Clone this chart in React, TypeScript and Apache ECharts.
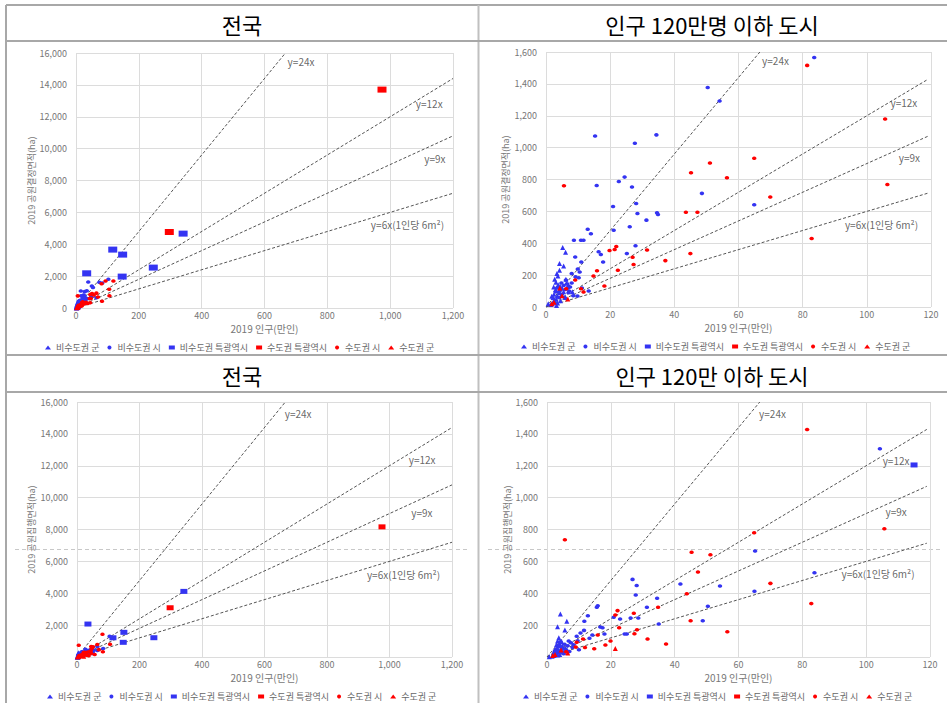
import React, { useEffect, useRef } from "react";
import * as echarts from "echarts";

// ---- 결정면적 (2019 공원결정면적, ha) : [인구(만인), 면적] ----
const gyeolBlueGun = [
  [5.2, 373], [6.1, 344], [4.2, 273], [5.5, 258], [4.2, 231], [3.4, 210], [3.7, 195], [2.7, 174], [6.2, 174],
  [1.8, 67], [0.7, 21], [2.5, 80], [3.0, 110], [3.2, 50], [3.5, 70], [2.8, 30], [4.0, 100], [4.5, 40], [5.0, 120],
  [2.2, 60], [3.8, 140], [4.2, 90], [2.0, 20], [3.3, 10], [4.8, 75], [5.5, 95], [6.0, 60], [2.6, 45], [3.6, 25],
  [1.5, 15], [4.4, 130], [7.0, 140], [8.2, 95], [2.4, 125], [3.1, 155],
];
const gyeolBlueSi = [
  [83.6, 1566], [50.4, 1377], [54.1, 1293], [15.3, 1073], [34.4, 1080], [27.7, 1027], [24.5, 815], [22.7, 788],
  [26.8, 753], [15.8, 763], [48.6, 713], [28.1, 650], [20.9, 631], [64.9, 641], [28.5, 587], [34.6, 591],
  [34.9, 581], [31.3, 545], [26.1, 503], [13.0, 488], [21.1, 482], [14.0, 459], [8.7, 419], [10.9, 419],
  [11.7, 419], [27.9, 384], [25.2, 335], [16.4, 346], [17.1, 329], [17.8, 283], [11.0, 283], [9.1, 314],
  [9.9, 239], [10.5, 220], [8.0, 210], [9.2, 189], [10.2, 184], [11.2, 119], [9.8, 69], [13.3, 101],
  [3.0, 95], [3.5, 120], [4.0, 60], [4.5, 105], [5.0, 80], [5.5, 135], [6.0, 110], [6.5, 145], [7.0, 90],
  [7.5, 125], [8.0, 150], [8.5, 70], [6.2, 170], [7.2, 100], [5.8, 60], [4.8, 150], [6.8, 120],
  [39, 1630], [74, 1610], [103, 1800],
];
const gyeolBlueMetro = [[341, 4667], [117, 3664], [148.5, 3350], [34, 2177], [246, 2535], [147, 1970]];
const gyeolRedMetro = [[974, 13703], [297, 4769]];
const gyeolRedSi = [
  [81.4, 1516], [105.7, 1180], [106.4, 769], [82.8, 430], [64.9, 933], [51.1, 904], [45.2, 843], [56.4, 811],
  [69.9, 690], [43.6, 595], [47.2, 595], [5.6, 761], [45.0, 335], [37.2, 291], [31.5, 358], [27.0, 312],
  [27.3, 266], [21.9, 380], [21.4, 361], [19.8, 354], [22.4, 231], [15.9, 228], [14.8, 195], [18.2, 132],
  [9.1, 170], [10.9, 115], [11.7, 94], [6.3, 115], [94, 1700], [119, 1700],
];
const gyeolRedGun = [[4.3, 119], [2.5, 30], [6.8, 50], [5.0, 70], [1.8, 20]];

// ---- 집행면적 (2019 공원집행면적, ha) ----
const jipBlueGun = [
  [4.2, 270], [6.2, 224], [3.3, 190], [5.6, 169], [3.7, 121], [3.3, 100], [3.0, 79], [2.1, 31], [0.7, 2],
  [2.5, 50], [2.8, 20], [3.2, 60], [3.6, 35], [4.0, 15], [4.4, 45], [4.8, 70], [5.2, 30], [2.2, 10], [1.6, 5],
  [3.9, 85], [5.8, 55], [2.6, 40], [3.4, 12], [4.6, 95],
];
const jipBlueSi = [
  [104.3, 1307], [65.2, 665], [83.8, 529], [65.0, 412], [54.2, 445], [41.8, 458], [50.4, 318], [48.8, 228],
  [26.8, 487], [28.1, 448], [27.8, 389], [34.5, 368], [31.3, 312], [35.0, 207], [28.6, 245], [26.2, 245],
  [22.9, 238], [20.9, 249], [15.9, 322], [15.6, 312], [12.8, 259], [11.7, 224], [11.6, 167], [10.5, 151],
  [16.7, 188], [17.4, 184], [18.0, 144], [14.2, 138], [25.0, 144], [24.3, 144], [9.3, 130], [9.6, 102],
  [13.3, 117], [10.0, 46], [8.3, 77], [3.5, 40], [4.0, 65], [4.5, 30], [5.0, 55], [5.5, 80], [6.0, 45],
  [6.5, 70], [7.0, 35], [7.5, 90], [8.0, 60], [5.2, 20], [6.8, 100], [4.2, 95],
];
const jipBlueMetro = [[342, 4117], [35, 2068], [150, 1548], [115, 1205], [246, 1210], [148, 921]];
const jipRedMetro = [[976, 8166], [298, 3090]];
const jipRedSi = [
  [81.5, 1428], [105.7, 805], [64.9, 780], [45.3, 657], [51.2, 642], [47.3, 533], [70.0, 462], [43.8, 397],
  [82.8, 335], [5.6, 736], [34.8, 312], [27.2, 274], [22.1, 291], [21.4, 264], [22.6, 184], [27.4, 146],
  [28.2, 171], [45.0, 228], [56.5, 159], [37.3, 82], [31.5, 113], [19.9, 100], [18.3, 75], [15.9, 138],
  [14.8, 52], [11.3, 113], [11.9, 59], [9.3, 92], [9.0, 63], [6.0, 33],
];
const jipRedGun = [[21.4, 54], [4.4, 44], [2.5, 15], [6.5, 25], [1.8, 10]];

// ---- 기준선 ----
const refSlopes = [24, 12, 9, 6];
const refNames = ["y=24x", "y=12x", "y=9x", "y=6x(1인당 6m²)"];
const refLabelPos1 = [[672, 15480], [1080, 12826], [1107, 9375], [937, 5233]];
const refLabelPos2 = [[67.2, 1547], [107.2, 1281], [109.8, 937], [93.0, 520]];
const refLabelPos3 = [[663, 15292], [1060, 12366], [1068, 9067], [926, 5181]];
const refLabelPos4 = [[66.3, 1529], [105, 1236], [105.9, 910], [92.1, 521]];

const legendNames = ["비수도권 군", "비수도권 시", "비수도권 특광역시", "수도권 특광역시", "수도권 시", "수도권 군"];
const titles = ["전국", "인구 120만명 이하 도시", "전국", "인구 120만 이하 도시"];
const yTitles = ["2019 공원결정면적(ha)", "2019 공원결정면적(ha)", "2019 공원집행면적(ha)", "2019 공원집행면적(ha)"];
const xTitle = "2019 인구(만인)";

const BLUE = "#3434f2";
const RED = "#ff0000";
const FONT = "'Noto Sans CJK KR', 'Noto Sans', sans-serif";

export default function App() {
  const ref = useRef<HTMLDivElement>(null);
  useEffect(() => {
    if (!ref.current) return;
    const chart = echarts.init(ref.current, undefined, { renderer: "svg" });

    const panels = [
      { grid: { left: 76, top: 53, width: 377, height: 255 }, small: false, d: "g", lab: refLabelPos1, metro: [9, 6], yGap: 40, showMin: true },
      { grid: { left: 546, top: 52, width: 385, height: 255 }, small: true, d: "g", lab: refLabelPos2, metro: [7, 5], yGap: 36, showMin: true },
      { grid: { left: 77, top: 402, width: 375, height: 255 }, small: false, d: "j", lab: refLabelPos3, metro: [7, 5], yGap: 41, showMin: false },
      { grid: { left: 547, top: 402, width: 383, height: 255 }, small: true, d: "j", lab: refLabelPos4, metro: [7, 5], yGap: 35, showMin: false },
    ];

    const grids: any[] = [];
    const xAxes: any[] = [];
    const yAxes: any[] = [];
    const series: any[] = [];
    const legends: any[] = [];
    const legendPos = [[40, 338], [516, 337], [42, 687], [518, 687]];

    panels.forEach((p, i) => {
      const xMax = p.small ? 120 : 1200;
      const yMax = p.small ? 1600 : 16000;
      grids.push(p.grid);
      const axisLabel = {
        color: "#777",
        fontSize: 9,
        fontFamily: FONT,
        formatter: (v: number) => v.toLocaleString("en-US"),
      };
      xAxes.push({
        type: "value", gridIndex: i, min: 0, max: xMax, interval: p.small ? 20 : 200,
        axisLine: { show: false }, axisTick: { show: false },
        splitLine: { show: true, lineStyle: { color: "#dcdcdc", width: 1 } },
        axisLabel: { ...axisLabel, margin: 3 },
        name: xTitle, nameLocation: "middle", nameGap: 15,
        nameTextStyle: { color: "#777", fontSize: 10, fontFamily: FONT, verticalAlign: "top", lineHeight: 10 },
      });
      yAxes.push({
        type: "value", gridIndex: i, min: 0, max: yMax, interval: p.small ? 200 : 2000,
        axisLine: { show: false }, axisTick: { show: false },
        splitLine: { show: true, lineStyle: { color: "#dcdcdc", width: 1 } },
        axisLabel: { ...axisLabel, margin: 9, showMinLabel: p.showMin },
        name: yTitles[i], nameLocation: "middle", nameGap: p.yGap,
        nameTextStyle: { color: "#777", fontSize: 9, fontFamily: FONT },
      });

      const flt = (arr: number[][]) => (p.small ? arr.filter((q) => q[0] <= xMax && q[1] <= yMax) : arr);
      const src = p.d === "g"
        ? [gyeolBlueGun, gyeolBlueSi, gyeolBlueMetro, gyeolRedMetro, gyeolRedSi, gyeolRedGun]
        : [jipBlueGun, jipBlueSi, jipBlueMetro, jipRedMetro, jipRedSi, jipRedGun];

      // reference lines
      refSlopes.forEach((k) => {
        const xEndLimit = p.small ? 119 : xMax;
        const xEnd = Math.min(xEndLimit, yMax / k);
        series.push({
          type: "line", xAxisIndex: i, yAxisIndex: i, silent: true, symbol: "none",
          data: [[0, 0], [xEnd, k * xEnd]],
          lineStyle: { color: "#555", width: 1, type: [3, 2] }, z: 1,
        });
      });
      series.push({
        type: "scatter", xAxisIndex: i, yAxisIndex: i, silent: true, symbolSize: 1,
        itemStyle: { color: "rgba(0,0,0,0)" },
        data: p.lab.map((pos, j) => [pos[0], pos[1], refNames[j]]),
        label: {
          show: true, position: "right", distance: 0, color: "#404040", fontSize: 10, fontFamily: FONT,
          formatter: (q: any) => q.value[2],
        },
        z: 3,
      });

      const styles = [
        { symbol: "triangle", size: [5, 5], color: BLUE },
        { symbol: "circle", size: [4.5, 3.5], color: BLUE },
        { symbol: "rect", size: p.metro, color: BLUE },
        { symbol: "rect", size: p.metro, color: RED },
        { symbol: "circle", size: [4.5, 3.5], color: RED },
        { symbol: "triangle", size: [5, 5], color: RED },
      ];
      legendNames.forEach((nm, j) => {
        series.push({
          name: nm, type: "scatter", xAxisIndex: i, yAxisIndex: i,
          symbol: styles[j].symbol, symbolSize: styles[j].size,
          itemStyle: { color: styles[j].color, opacity: 1 },
          data: flt(src[j]), z: 2,
        });
      });

      legends.push({
        data: legendNames, left: legendPos[i][0], top: legendPos[i][1], orient: "horizontal",
        itemWidth: 6, itemHeight: 4, itemGap: 8, selectedMode: false,
        textStyle: { color: "#666", fontSize: 9, fontFamily: FONT },
      });
    });

    const frame = { stroke: "#a8a8a8", lineWidth: 2 };
    const graphic: any[] = [
      { type: "line", shape: { x1: 6, y1: 5, x2: 947, y2: 5 }, style: frame },
      { type: "line", shape: { x1: 6, y1: 5, x2: 6, y2: 703 }, style: frame },
      { type: "line", shape: { x1: 478.5, y1: 5, x2: 478.5, y2: 703 }, style: { ...frame, stroke: "#c0c0c0" } },
      { type: "line", shape: { x1: 6, y1: 41, x2: 947, y2: 41 }, style: frame },
      { type: "line", shape: { x1: 6, y1: 355, x2: 947, y2: 355 }, style: frame },
      { type: "line", shape: { x1: 6, y1: 392, x2: 947, y2: 392 }, style: frame },
      { type: "line", shape: { x1: 15, y1: 549.5, x2: 470, y2: 549.5 }, style: { stroke: "#c8c8c8", lineWidth: 1, lineDash: [4, 3] } },
      { type: "line", shape: { x1: 488, y1: 549.5, x2: 941, y2: 549.5 }, style: { stroke: "#c8c8c8", lineWidth: 1, lineDash: [4, 3] } },
    ];
    const titlePos = [[242, 24], [712, 24], [242, 375], [712, 375]];
    titles.forEach((t, i) => {
      graphic.push({
        type: "text", x: titlePos[i][0], y: titlePos[i][1],
        style: { text: t, fill: "#000", fontSize: 22, fontFamily: FONT, align: "center", verticalAlign: "middle" },
      });
    });

    chart.setOption({
      animation: false,
      backgroundColor: "#fff",
      grid: grids,
      xAxis: xAxes,
      yAxis: yAxes,
      legend: legends,
      series,
      graphic,
    });
    return () => chart.dispose();
  }, []);
  return <div ref={ref} style={{ position: "absolute", left: 0, top: 0, width: 947, height: 703 }} />;
}
